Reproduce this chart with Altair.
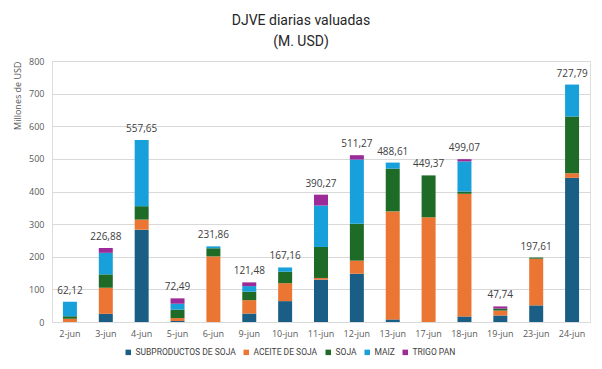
import altair as alt
import pandas as pd

cats = ["2-jun", "3-jun", "4-jun", "5-jun", "6-jun", "9-jun", "10-jun", "11-jun",
        "12-jun", "13-jun", "17-jun", "18-jun", "19-jun", "23-jun", "24-jun"]
productos = ["SUBPRODUCTOS DE SOJA", "ACEITE DE SOJA", "SOJA", "MAIZ", "TRIGO PAN"]
colores = ["#1B5E85", "#EB7532", "#1E6B27", "#17A0DA", "#9C2A98"]

subproductos = [0, 25, 283, 3, 0, 26, 64, 130, 148, 8, 0, 17, 20, 51, 442]
aceite = [10, 80, 31, 9, 201, 41, 55, 5, 40, 331, 321, 376, 15, 143, 14]
soja = [8, 41, 41, 26, 25, 26, 35, 95, 113, 131, 128.37, 7, 6, 3.61, 174]
maiz = [44.12, 66, 202.65, 18, 5.86, 17, 13.16, 127, 197, 18.61, 0, 92, 0, 0, 97.79]
trigo = [0, 14.88, 0, 16.49, 0, 11.48, 0, 33.27, 13.27, 0, 0, 7.07, 6.74, 0, 0]
totales = [62.12, 226.88, 557.65, 72.49, 231.86, 121.48, 167.16, 390.27, 511.27,
           488.61, 449.37, 499.07, 47.74, 197.61, 727.79]
etiquetas = ["62,12", "226,88", "557,65", "72,49", "231,86", "121,48", "167,16", "390,27",
             "511,27", "488,61", "449,37", "499,07", "47,74", "197,61", "727,79"]
yticks = [0, 100, 200, 300, 400, 500, 600, 700, 800]

series = [subproductos, aceite, soja, maiz, trigo]
rows = []
for i, c in enumerate(cats):
    for j, name in enumerate(productos):
        rows.append({"fecha": c, "producto": name, "valor": series[j][i], "orden": j})
df = pd.DataFrame(rows)
tot = pd.DataFrame({"fecha": cats, "total": totales, "etiqueta": etiquetas})

narrow = "Roboto"
xscale = alt.Scale(domain=cats, paddingInner=0.61, paddingOuter=0.305)
yscale = alt.Scale(domain=[0, 800], nice=False)

xaxis = alt.Axis(title=None, labelAngle=0, ticks=False, domain=True,
                 domainColor="#d9d9d9", labelFont="Open Sans", labelFontSize=9,
                 labelColor="#595959", labelPadding=7)
yaxis = alt.Axis(title="Millones de USD", values=yticks, tickCount=9, labelOverlap=False,
                 ticks=False, domain=False, gridColor="#d9d9d9",
                 labelFont="Open Sans", labelFontSize=9, labelColor="#595959",
                 labelPadding=8, titleFont="Open Sans", titleFontSize=9,
                 titleFontWeight="normal", titleColor="#595959",
                 titleAnchor="end", titlePadding=6)

bars = alt.Chart(df).mark_bar().encode(
    x=alt.X("fecha:N", sort=cats, scale=xscale, axis=xaxis),
    y=alt.Y("valor:Q", stack="zero", scale=yscale, axis=yaxis),
    color=alt.Color("producto:N", scale=alt.Scale(domain=productos, range=colores),
                    legend=alt.Legend(title=None, orient="none", direction="horizontal",
                                      legendX=72, legendY=287, symbolType="square",
                                      symbolSize=30, symbolStrokeWidth=0,
                                      labelFont=narrow, labelFontSize=8.5,
                                      labelColor="#404040", columnPadding=6,
                                      labelOffset=3)),
    order=alt.Order("orden:Q", sort="ascending"),
)

text = alt.Chart(tot).mark_text(baseline="bottom", dy=-6, font="Open Sans",
                                fontSize=10, color="#404040").encode(
    x=alt.X("fecha:N", sort=cats, scale=xscale, axis=xaxis),
    y=alt.Y("total:Q", scale=yscale, axis=yaxis),
    text="etiqueta:N",
)

chart = alt.layer(bars, text).properties(
    width=538, height=261,
    title=alt.TitleParams(["DJVE diarias valuadas", "(M. USD)"], font=narrow,
                          fontSize=14, fontWeight="normal", color="#262626",
                          anchor="middle", dx=-20, lineHeight=21, offset=8),
    autosize=alt.AutoSizeParams(type="none"),
    padding={"left": 44, "top": 53, "right": 4, "bottom": 39},
).configure_view(stroke=None).configure(background="white")

chart.save("out.html", embed_options={"renderer": "svg", "actions": False})
